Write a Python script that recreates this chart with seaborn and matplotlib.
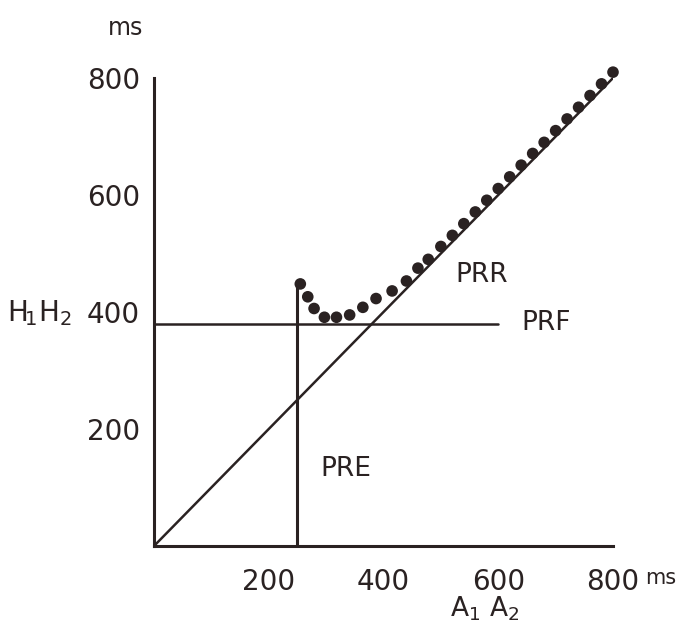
import numpy as np
import pandas as pd
import seaborn as sns
import matplotlib
matplotlib.use("Agg")
import matplotlib.pyplot as plt

# ---- data ----
a1a2 = [255, 268, 279, 297, 318, 341, 364, 387, 415, 440, 460, 478, 500,
        520, 540, 560, 580, 600, 620, 640, 660, 680, 700, 720, 740, 760, 780, 800]
h1h2 = [448, 426, 406, 391, 391, 395, 408, 423, 436, 453, 475, 490, 512,
        531, 551, 571, 591, 611, 631, 651, 671, 690, 710, 730, 750, 770, 790, 810]
identity_x = [0, 800]
prf_value = 380
prf_x = [0, 600]
pre_value = 250
pre_top = 452
xticks = [200, 400, 600, 800]
yticks = [200, 400, 600, 800]

df = pd.DataFrame({"A1A2": a1a2, "H1H2": h1h2})

sns.set_theme(style="white")
plt.rcParams['font.family'] = ['DejaVu Sans']
ink = "#2a2222"

fig = plt.figure(figsize=(6.91, 6.37), dpi=100)
W, H = 691, 637
x0, x1 = 154, 613
y0, y1 = 546, 78
ax = fig.add_axes([x0 / W, 1 - y0 / H, (x1 - x0) / W, (y0 - y1) / H])
ax.set_xlim(0, 800)
ax.set_ylim(0, 800)

# lines
sns.lineplot(x=identity_x, y=identity_x, ax=ax, color=ink, lw=1.8)
sns.lineplot(x=prf_x, y=[prf_value, prf_value], ax=ax, color=ink, lw=1.8)
ax.plot([pre_value, pre_value], [0, pre_top], color=ink, lw=2.2)

# dots
sns.scatterplot(data=df, x="A1A2", y="H1H2", ax=ax, color=ink, s=70,
                edgecolor="none", clip_on=False, zorder=5)

# spines / ticks
for s in ["top", "right"]:
    ax.spines[s].set_visible(False)
for s in ["left", "bottom"]:
    ax.spines[s].set_color(ink)
    ax.spines[s].set_linewidth(2.2)
ax.set_xticks(xticks)
ax.set_yticks(yticks)
ax.set_xticklabels([str(v) for v in xticks])
ax.set_yticklabels([str(v) for v in yticks])
ax.tick_params(axis="both", direction="in", length=8, width=1.6, color=ink,
               labelsize=20, labelcolor=ink)
ax.tick_params(axis="x", pad=16)
ax.tick_params(axis="y", pad=10)
ax.set_xlabel("")
ax.set_ylabel("")
ax.grid(False)

# annotations
ax.text(-50, 885, "ms", fontsize=17, color=ink, ha="center", va="center", clip_on=False)
ax.text(-200, 384, r"$\mathregular{H_{\!1}H_{2}}$", fontsize=20, color=ink,
        ha="center", va="baseline", clip_on=False)
ax.text(856, -55, "ms", fontsize=15, color=ink, ha="left", va="center", clip_on=False)
ax.text(577, -108, r"$\mathregular{A_1\ A_2}$", fontsize=19, color=ink,
        ha="center", va="center", clip_on=False)
ax.text(571, 464, "PRR", fontsize=19, color=ink, ha="center", va="center")
ax.text(684, 381, "PRF", fontsize=19, color=ink, ha="center", va="center", clip_on=False)
ax.text(334, 132, "PRE", fontsize=19, color=ink, ha="center", va="center")

fig.savefig("out.png", dpi=100, facecolor="white")
